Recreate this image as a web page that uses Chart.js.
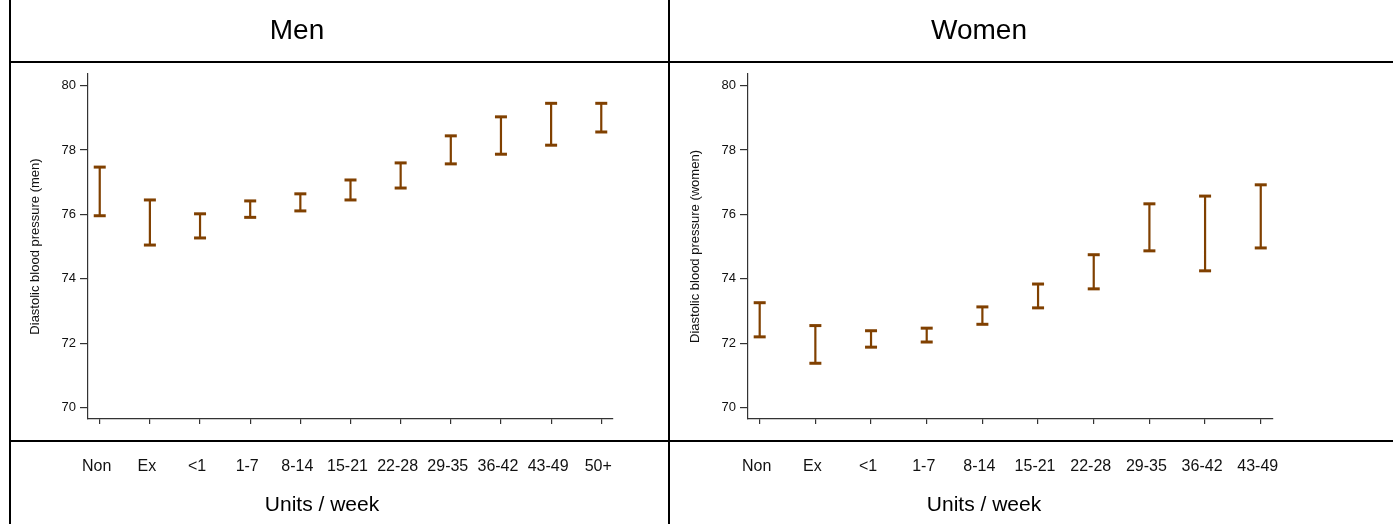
<!DOCTYPE html>
<html>
<head>
<meta charset="utf-8">
<title>Diastolic blood pressure by alcohol intake</title>
<script src="https://cdn.jsdelivr.net/npm/chart.js@4/dist/chart.umd.min.js"></script>
<style>
  html, body { margin: 0; padding: 0; background: #fff; }
  #wrap { position: relative; width: 1393px; height: 524px; overflow: hidden;
          font-family: "Liberation Sans", Arial, sans-serif; }
  #wrap canvas { position: absolute; top: 0; }
  .rule { position: absolute; background: #000; }
  .head { position: absolute; width: 240px; text-align: center; font-size: 28px; line-height: 28px; color: #000; }
  .xtitle { position: absolute; width: 240px; text-align: center; font-size: 21px; line-height: 21px; color: #000; }
</style>
</head>
<body>
<div id="wrap">
  <canvas id="menChart" width="669" height="524" style="left:0;width:669px;height:524px"></canvas>
  <canvas id="womenChart" width="724" height="524" style="left:669px;width:724px;height:524px"></canvas>

  <div class="rule" style="left:9px;top:0;width:2px;height:524px"></div>
  <div class="rule" style="left:668px;top:0;width:2px;height:524px"></div>
  <div class="rule" style="left:9px;top:61px;width:1384px;height:2px"></div>
  <div class="rule" style="left:9px;top:440px;width:1384px;height:2px"></div>

  <div class="head" style="left:177px;top:16px">Men</div>
  <div class="head" style="left:859px;top:16px">Women</div>
  <div class="xtitle" style="left:202px;top:493px">Units / week</div>
  <div class="xtitle" style="left:864px;top:493px">Units / week</div>
</div>

<script>
// Drinking categories (units / week)
const menCategories = ["Non", "Ex", "<1", "1-7", "8-14", "15-21", "22-28", "29-35", "36-42", "43-49", "50+"];
const womenCategories = ["Non", "Ex", "<1", "1-7", "8-14", "15-21", "22-28", "29-35", "36-42", "43-49"];

// Confidence interval ends
const menLower = [75.96, 75.05, 75.27, 75.91, 76.11, 76.45, 76.82, 77.57, 77.87, 78.15, 78.56];
const menUpper = [77.47, 76.45, 76.02, 76.42, 76.64, 77.07, 77.60, 78.44, 79.03, 79.45, 79.45];
const womenLower = [72.20, 71.38, 71.88, 72.04, 72.59, 73.10, 73.69, 74.87, 74.25, 74.96];
const womenUpper = [73.26, 72.55, 72.39, 72.47, 73.13, 73.84, 74.75, 76.33, 76.57, 76.92];

const yTicks = [70, 72, 74, 76, 78, 80];

const BROWN = "#804000";
const AXIS = "#333";

Chart.defaults.font.family = '"Liberation Sans", Arial, sans-serif';

// Draw one panel of error bars
function renderPanel(id, cats, lower, upper, cfg) {
  // vertical whiskers, broken by a null after each one
  const whiskers = [];
  const caps = [];
  lower.forEach((lo, i) => {
    whiskers.push({ x: i, y: lo }, { x: i, y: upper[i] }, { x: i, y: null });
    caps.push({ x: i, y: lo }, { x: i, y: upper[i] });
  });

  return new Chart(document.getElementById(id).getContext("2d"), {
    type: "scatter",
    data: {
      datasets: [
        {
          label: "CI",
          data: whiskers,
          showLine: true,
          spanGaps: false,
          borderColor: BROWN,
          borderWidth: 2.2,
          pointRadius: 0,
        },
        {
          label: "caps",
          data: caps,
          showLine: false,
          pointStyle: "line",
          pointRadius: 6,
          pointBorderWidth: 3,
          pointBorderColor: BROWN,
          pointBackgroundColor: BROWN,
        },
      ],
    },
    options: {
      responsive: false,
      animation: false,
      events: [],
      layout: { padding: { top: 74, right: cfg.padRight, bottom: 0, left: 0 } },
      plugins: { legend: { display: false }, tooltip: { enabled: false } },
      scales: {
        x: {
          type: "linear",
          min: cfg.xMin,
          max: cfg.xMax,
          afterBuildTicks: (s) => { s.ticks = cats.map((c, i) => ({ value: i })); },
          afterFit: (s) => { s.height = 105; },
          ticks: {
            callback: (v, i) => cats[i],
            font: { size: 16 },
            color: "#111",
            padding: 33,
            labelOffset: -3,
            autoSkip: false,
            maxRotation: 0,
            minRotation: 0,
          },
          grid: { drawOnChartArea: false, drawTicks: true, tickLength: 5, color: AXIS, lineWidth: 1.2 },
          border: { display: true, color: AXIS, width: 1.2 },
        },
        y: {
          min: 69.65,
          max: 80.36,
          afterBuildTicks: (s) => { s.ticks = yTicks.map((v) => ({ value: v })); },
          afterFit: (s) => { s.width = cfg.axisWidth; },
          ticks: { font: { size: 13 }, color: "#111", padding: 4 },
          grid: { drawOnChartArea: false, drawTicks: true, tickLength: 8, color: AXIS, lineWidth: 1.2 },
          border: { display: true, color: AXIS, width: 1.2 },
          title: {
            display: true,
            text: cfg.yTitle,
            font: { size: 13 },
            color: "#111",
            padding: { top: cfg.yTitlePad, bottom: 0 },
          },
        },
      },
    },
  });
}

renderPanel("menChart", menCategories, menLower, menUpper, {
  yTitle: "Diastolic blood pressure (men)",
  xMin: -0.234,
  xMax: 10.234,
  axisWidth: 88,
  padRight: 56,
  yTitlePad: 28,
});

renderPanel("womenChart", womenCategories, womenLower, womenUpper, {
  yTitle: "Diastolic blood pressure (women)",
  xMin: -0.21,
  xMax: 9.22,
  axisWidth: 79,
  padRight: 120,
  yTitlePad: 18.5,
});
</script>
</body>
</html>
